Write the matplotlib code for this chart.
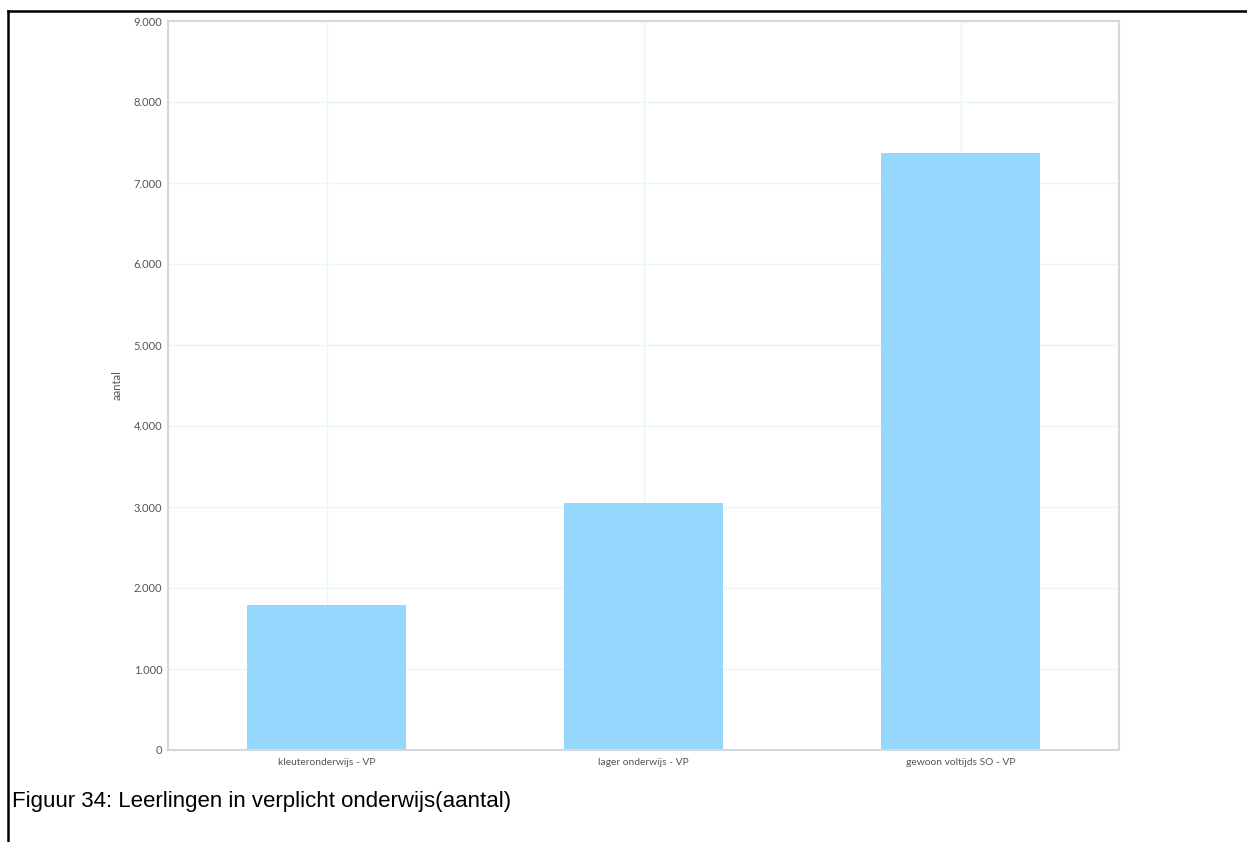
import matplotlib
matplotlib.use("Agg")
import matplotlib.pyplot as plt
from matplotlib.lines import Line2D
from matplotlib.ticker import FuncFormatter

categories = ["kleuteronderwijs - VP", "lager onderwijs - VP", "gewoon voltijds SO - VP"]
values = [1790, 3055, 7370]
y_ticks = [0, 1000, 2000, 3000, 4000, 5000, 6000, 7000, 8000, 9000]

fig = plt.figure(figsize=(12.47, 8.42), dpi=100)
ax = fig.add_axes([168 / 1247, 1 - 750 / 842, (1119 - 168) / 1247, (750 - 21) / 842])

x = range(len(categories))
ax.bar(x, values, width=0.5, color="#95d7fd", zorder=2)

ax.set_xlim(-0.5, len(categories) - 0.5)
ax.set_ylim(0, 9000)
ax.set_yticks(y_ticks)
ax.yaxis.set_major_formatter(FuncFormatter(lambda v, p: f"{int(v):,}".replace(",", ".")))
ax.set_xticks(list(x))
ax.set_xticklabels(categories)

ax.grid(True, color="#eaf5fb", linewidth=1, zorder=0)
ax.tick_params(length=0, labelcolor="#555555")
ax.tick_params(axis="y", pad=4, labelsize=8)
ax.tick_params(axis="x", pad=6, labelsize=7.4)
for lbl in ax.get_xticklabels() + ax.get_yticklabels():
    lbl.set_family("Lato")
for s in ax.spines.values():
    s.set_color("#d3d8db")
    s.set_linewidth(1.5)

ax.set_ylabel("aantal", fontsize=8, color="#555555", family="Lato")
ax.yaxis.set_label_coords((123 - 168) / 951, 0.5)

# frame lines of the document cell (top and left)
fig.add_artist(Line2D([8 / 1247, 1], [1 - 11 / 842, 1 - 11 / 842], color="black", linewidth=1.8))
fig.add_artist(Line2D([8 / 1247, 8 / 1247], [0, 1 - 11 / 842], color="black", linewidth=1.8))

fig.text(12 / 1247, 1 - 801 / 842, "Figuur 34: Leerlingen in verplicht onderwijs(aantal)",
         fontsize=16, family="Liberation Sans", va="center", ha="left")

fig.savefig("out.png", dpi=100)
